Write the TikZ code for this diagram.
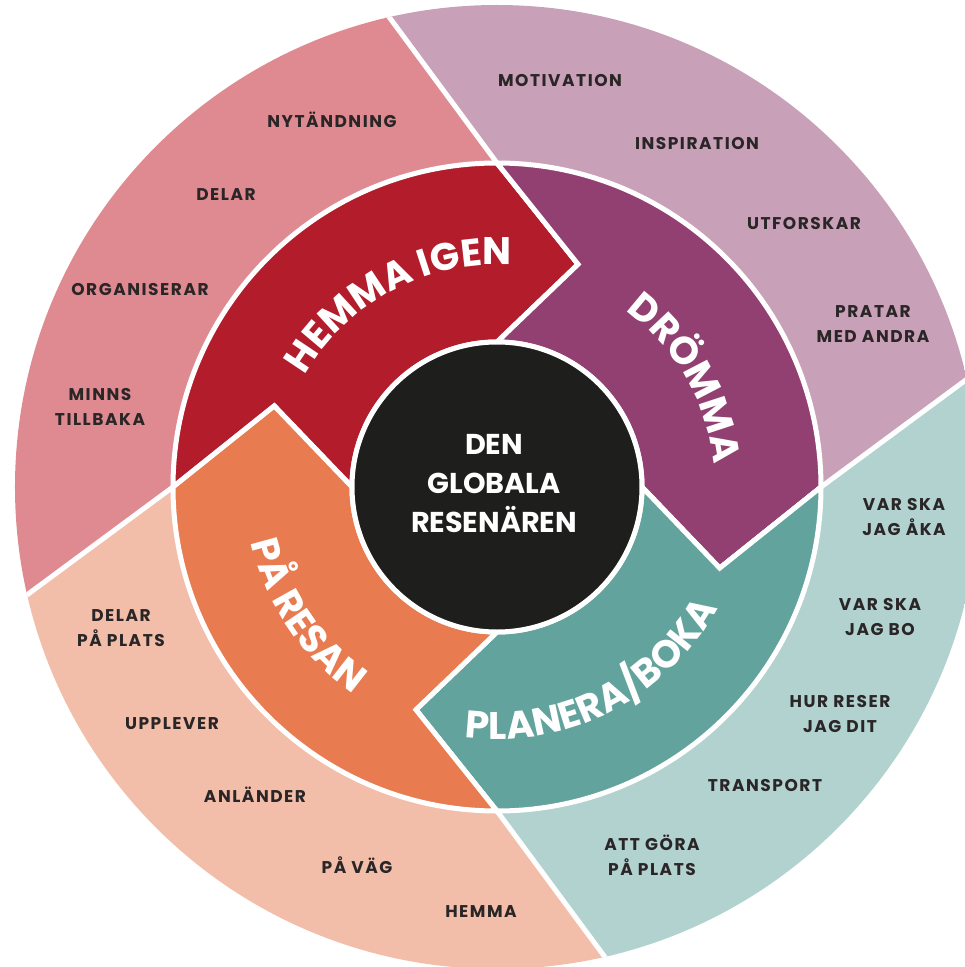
\documentclass[tikz,border=0pt]{standalone}
\usepackage{fontspec}
\setmainfont{Poppins}
\usetikzlibrary{decorations.text}
\definecolor{opink}{HTML}{DE8A90}
\definecolor{olilac}{HTML}{C8A0B8}
\definecolor{oteal}{HTML}{B1D2CF}
\definecolor{opeach}{HTML}{F3BEA9}
\definecolor{cred}{HTML}{B31D2B}
\definecolor{cpurple}{HTML}{923F71}
\definecolor{cteal}{HTML}{63A39D}
\definecolor{corange}{HTML}{E87B50}
\definecolor{cblack}{HTML}{1E1E1C}
\definecolor{labcol}{HTML}{2A2526}
\newcommand\curvefont{\bfseries\fontsize{38.5}{40}\selectfont}
\tikzset{
  sep/.style={white, line width=5pt},
  seg/.style={draw=white, line width=5pt, line join=miter},
  lbl/.style={font=\bfseries\fontsize{17}{25}\selectfont\addfontfeature{LetterSpace=9}, text=labcol, align=center, inner sep=0pt},
  curved/.style={decorate, decoration={text along path, text={|\curvefont|#1}, text align=center, text color=white}}
}
\begin{document}
\begin{tikzpicture}[x=1pt,y=1pt]
\useasboundingbox (-497,-480) rectangle (468,487);
\clip (-497,-480) rectangle (468,487);
% outer ring
\begin{scope}
\clip (0,0) circle[radius=482];
\fill[opink] (0,324) -- (-416,887) -- (-1000,1000) -- (-887,-416) -- (-324,0) -- (0,0) -- cycle;
\fill[olilac] (0,324) -- (-416,887) -- (1000,1000) -- (887,416) -- (324,0) -- (0,0) -- cycle;
\fill[oteal] (324,0) -- (887,416) -- (1000,-1000) -- (416,-887) -- (0,-324) -- (0,0) -- cycle;
\fill[opeach] (0,-324) -- (416,-887) -- (-1000,-1000) -- (-887,-416) -- (-324,0) -- (0,0) -- cycle;
\draw[sep] (0,324) -- (-416,887);
\draw[sep] (324,0) -- (887,416);
\draw[sep] (0,-324) -- (416,-887);
\draw[sep] (-324,0) -- (-887,-416);
\end{scope}
% inner ring segments
\path[seg, fill=cred] (180:324) arc[start angle=180, end angle=90, radius=324] -- (70:237) -- (90:145) arc[start angle=90, end angle=180, radius=145] -- (160:237) -- cycle;
\path[seg, fill=cpurple] (90:324) arc[start angle=90, end angle=0, radius=324] -- (-20:237) -- (0:145) arc[start angle=0, end angle=90, radius=145] -- (70:237) -- cycle;
\path[seg, fill=cteal] (0:324) arc[start angle=0, end angle=-90, radius=324] -- (-110:237) -- (-90:145) arc[start angle=-90, end angle=0, radius=145] -- (-20:237) -- cycle;
\path[seg, fill=corange] (270:324) arc[start angle=270, end angle=180, radius=324] -- (160:237) -- (180:145) arc[start angle=180, end angle=270, radius=145] -- (-110:237) -- cycle;
% curved titles
\path[curved={HEMMA IGEN}] (158:222) arc[start angle=158, end angle=78, radius=222];
\path[curved={DRÖMMA}] (75:218) arc[start angle=75, end angle=-15, radius=218];
\path[curved={PLANERA/BOKA}] (242:252) arc[start angle=242, end angle=352, radius=252];
\path[curved={PÅ RESAN}] (170:252) arc[start angle=170, end angle=258, radius=252];
% centre
\node (hub) [circle, minimum size=290pt, fill=cblack, draw=white, line width=5pt, inner sep=0pt] at (0,0) {};
\node (hubtext) [align=center, text=white, font=\bfseries\fontsize{28.7}{39}\selectfont] at (-3,3) {DEN\\GLOBALA\\RESENÄREN};
% outer labels
\node (l1) [lbl] at (-165,367) {NYTÄNDNING};
\node (l2) [lbl] at (-271,292) {DELAR};
\node (l3) [lbl] at (-357,197) {ORGANISERAR};
\node (l4) [lbl] at (-397,80) {MINNS\\TILLBAKA};
\node (l5) [lbl] at (63,406) {MOTIVATION};
\node (l6) [lbl] at (200,343) {INSPIRATION};
\node (l7) [lbl] at (307,263) {UTFORSKAR};
\node (l8) [lbl] at (376,163) {PRATAR\\MED ANDRA};
\node (l9) [lbl] at (407,-30) {VAR SKA\\JAG ÅKA};
\node (l10) [lbl] at (383,-130) {VAR SKA\\JAG BO};
\node (l11) [lbl] at (343,-227) {HUR RESER\\JAG DIT};
\node (l12) [lbl] at (268,-299) {TRANSPORT};
\node (l13) [lbl] at (155,-368) {ATT GÖRA\\PÅ PLATS};
\node (l14) [lbl] at (-376,-141) {DELAR\\PÅ PLATS};
\node (l15) [lbl] at (-325,-237) {UPPLEVER};
\node (l16) [lbl] at (-242,-308) {ANLÄNDER};
\node (l17) [lbl] at (-140,-378) {PÅ VÄG};
\node (l18) [lbl] at (-16,-425) {HEMMA};
\end{tikzpicture}
\end{document}
